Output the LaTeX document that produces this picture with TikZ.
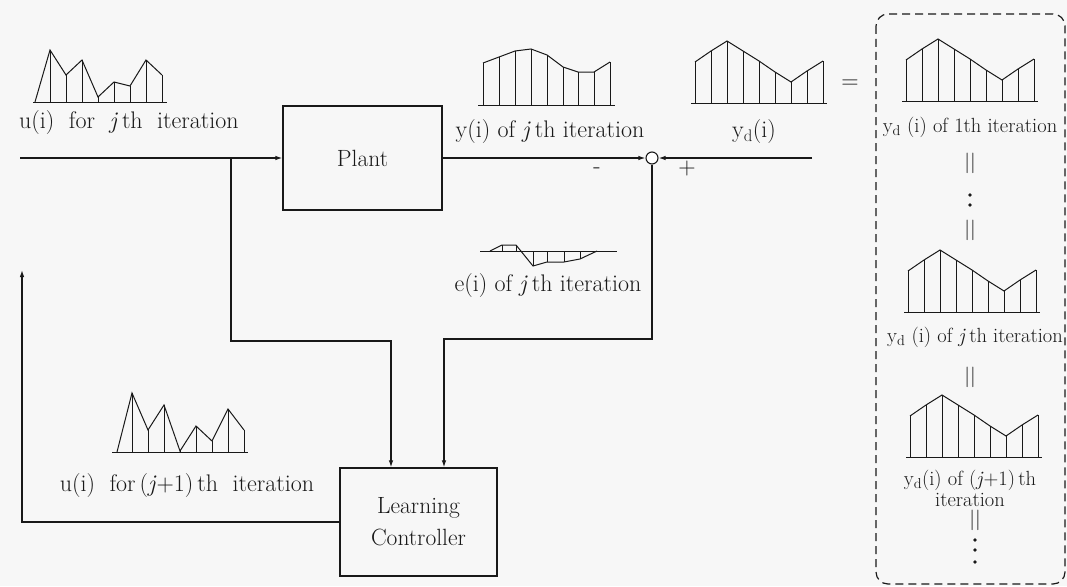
\documentclass[tikz,border=0pt]{standalone}
\usepackage{amsmath}
\usepackage{amssymb}
\usetikzlibrary{arrows.meta}

% one y_d(i) sample pattern, drawn round the origin of the current scope
\newcommand{\ydwave}{%
  \draw[wave] (-4,0) -- (132,0);
  \draw[wave] (0,-41) -- (16,-52) -- (32,-62) -- (48,-52) -- (64,-42) -- (80,-31) -- (96,-21) -- (112,-32) -- (128,-42);
  \foreach \x/\h in {0/41,16/52,32/62,48/52,64/42,80/31,96/21,112/32,128/42}
    \draw[wave] (\x,0) -- (\x,-\h);}

\begin{document}
\begin{tikzpicture}[x=1pt,y=-1pt,line width=1.2pt,color=black!90,
  >={Latex[length=7pt,width=4.5pt]},
  blk/.style={draw,line width=1.2pt,inner sep=0pt,align=center,font=\fontsize{23.5}{32}\selectfont},
  lbl/.style={inner sep=0pt,font=\fontsize{24}{28}\selectfont},
  sml/.style={inner sep=0pt,align=center,font=\fontsize{20.5}{21}\selectfont},
  wave/.style={line width=1pt}]
\fill[black!3] (0,0) rectangle (1067,586);
\useasboundingbox (0,0) rectangle (1067,586);

% blocks
\node[blk,minimum width=159pt,minimum height=104pt] (plant) at (362.5,158) {Plant};
\node[blk,minimum width=157pt,minimum height=108pt] (lc) at (418.5,522) {Learning\\Controller};
\node[draw,circle,line width=1.1pt,minimum size=12pt,inner sep=0pt,fill=white] (sum) at (652,158) {};

\coordinate (uin) at (20,158);
\coordinate (ydin) at (812,158);
\coordinate (ubr) at (231,158);
\coordinate (uturn) at (391,341);
\coordinate (eturn) at (444,339);
\coordinate (fb) at (22,270);

% signal lines
\draw[->] (uin) -- (plant.west);
\draw[->] (plant.east) -- (sum.west);
\draw[->] (ydin) -- (sum.east);
\draw[->] (ubr) |- (uturn) -- (uturn |- lc.north);
\draw[->] (sum.south) |- (eturn) -- (eturn |- lc.north);
\draw[->] (lc.west) -| (fb);

% labels
\node[lbl] (ulab) at (129,123) {u(i)\ \ for\ \ \textit{j}\,th\ \ iteration};
\node[lbl] (ylab) at (550,132) {y(i) of \textit{j}\,th iteration};
\node[lbl] (ydlab) at (754,132) {y\textsubscript{d}(i)};
\node[lbl] (elab) at (548,286) {e(i) of \textit{j}\,th iteration};
\node[lbl] (unlab) at (187,486) {u(i)\ \ for\,(\textit{j}+1)\,th\ \ iteration};
\node[lbl] (minus) at (597,171) {-};
\node[lbl] (plus) at (687,169) {+};
\node[lbl] (eq) at (850,84) {=};

% u(i), jth iteration
\draw[wave] (33,102) -- (167,102);
\draw[wave] (35,102) \foreach \x/\y in {50/50,66/75,82/60,98/97,114/82,130/86,146/60,162/75} { -- (\x,\y) };
\foreach \x/\y in {50/50,66/75,82/60,98/97,114/82,130/86,146/60,162/75}
  \draw[wave] (\x,102) -- (\x,\y);

% u(i), (j+1)th iteration
\draw[wave] (112,452) -- (248,452);
\draw[wave] (117,452) \foreach \x/\y in {132/393,148/430,164/405,180/451,196/426,212/441,228/409,244/430} { -- (\x,\y) };
\foreach \x/\y in {132/393,148/430,164/405,180/451,196/426,212/441,228/409,244/430}
  \draw[wave] (\x,452) -- (\x,\y);

% y(i)
\draw[wave] (478,105) -- (615,105);
\draw[wave] (483,63) \foreach \x/\y in {499/57,515/51,531/49,547/55,563/67,578/72,594/72,610/62} { -- (\x,\y) };
\foreach \x/\y in {483/63,499/57,515/51,531/49,547/55,563/67,578/72,594/72,610/62}
  \draw[wave] (\x,105) -- (\x,\y);

% e(i)
\draw[wave] (480,251) -- (617,251);
\draw[wave] (490,251) -- (502,245) -- (516,245) -- (533,266) -- (547,262) -- (564,262) -- (580,259) -- (597,251);
\foreach \x/\y in {502/245,516/245,533/266,547/262,564/262,580/259}
  \draw[wave] (\x,251) -- (\x,\y);

% y_d(i)
\begin{scope}[shift={(695,103)}] \ydwave \end{scope}

% desired output, iteration by iteration
\draw[line width=1.2pt,dash pattern=on 8pt off 5pt,rounded corners=12pt] (876,14) rectangle (1065,584);
\begin{scope}[shift={(906,101)}] \ydwave \end{scope}
\begin{scope}[shift={(908,312)}] \ydwave \end{scope}
\begin{scope}[shift={(910,457)}] \ydwave \end{scope}

\node[sml] (yd1) at (970,127) {y\textsubscript{d} (i) of 1th iteration};
\node[sml] (eq1) at (970,163) {||};
\fill (970,195) circle (1.8) (970,205) circle (1.8);
\node[sml] (eq2) at (970,230) {||};
\node[sml] (ydj) at (975,337) {y\textsubscript{d} (i) of \textit{j}\,th iteration};
\node[sml] (eq3) at (970,377) {||};
\node[sml] (ydn) at (970,488) {y\textsubscript{d}(i) of (\textit{j}+1)\,th\\iteration};
\node[sml] (eq4) at (975,520) {||};
\fill (975,540) circle (1.8) (975,550) circle (1.8) (975,562) circle (1.8);
\end{tikzpicture}
\end{document}
